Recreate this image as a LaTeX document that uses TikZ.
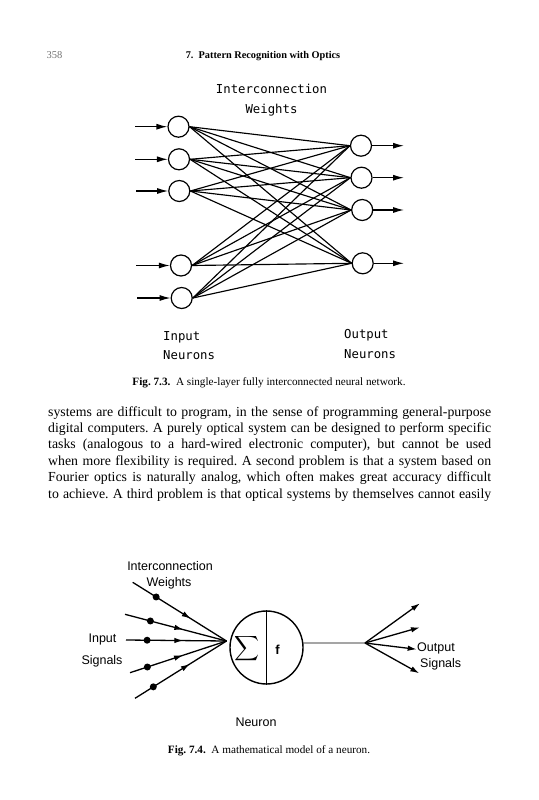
\documentclass[tikz,border=0pt]{standalone}
\usepackage{amsmath}
\usepackage{fontspec}
\setmainfont{Liberation Serif}
\newfontfamily\plotfont{DejaVu Sans Mono}
\newfontfamily\helvfont{Liberation Sans}
\usepackage{tikz}
\usetikzlibrary{positioning, calc, arrows.meta, decorations.markings}

\begin{document}
\frenchspacing
\begin{tikzpicture}[x=1pt, y=-1pt,
  neuron/.style={circle, draw, line width=1.2pt, minimum size=21pt, inner sep=0pt},
  feed/.style={line width=1.2pt, -{Latex[length=11pt,width=6pt]}},
  weight/.style={line width=1.15pt},
  plotlbl/.style={anchor=base, inner sep=0pt, font=\plotfont\fontsize{12.3}{14}\selectfont},
  helvlbl/.style={anchor=base, inner sep=0pt, font=\helvfont\fontsize{12.5}{14}\selectfont},
  bodyline/.style={anchor=base west, inner sep=0pt, font=\fontsize{13.8}{16.4}\selectfont},
  caption/.style={anchor=base, inner sep=0pt, font=\fontsize{11.2}{13}\selectfont},
  dot/.style={circle, fill, inner sep=0pt, minimum size=7pt},
  midarrow/.style={line width=1.3pt, postaction={decorate},
    decoration={markings, mark=at position #1 with {\arrow{Latex[length=9pt,width=5.5pt]}}}},
  fan/.style={line width=1.3pt, -{Latex[length=9pt,width=5.5pt]}}
]
  \fill[white] (0,0) rectangle (538,800);
  \useasboundingbox (0,0) rectangle (538,800);

  % running head
  \node[anchor=base west, inner sep=0pt, text=black!55, font=\fontsize{10.5}{12}\selectfont] (pgno) at (46.5,58.5) {358};
  \node[anchor=base, inner sep=0pt, font=\bfseries\fontsize{10.3}{12}\selectfont] (head) at (263,58.5) {7.\ \ Pattern Recognition with Optics};

  % Fig. 7.3: single-layer network
  \node[plotlbl] (iw1) at (271.5,93.5) {Interconnection};
  \node[plotlbl] (iw2) at (271.5,113) {Weights};

  \node[neuron] (i1) at (178.5,126.7) {};
  \node[neuron] (i2) at (179,159.3) {};
  \node[neuron] (i3) at (179.3,191) {};
  \node[neuron] (i4) at (181,265.5) {};
  \node[neuron] (i5) at (181.7,298) {};
  \node[neuron] (o1) at (361,145.7) {};
  \node[neuron] (o2) at (361.5,177.7) {};
  \node[neuron] (o3) at (362.2,210) {};
  \node[neuron] (o4) at (362.7,263.3) {};

  \coordinate (a1) at (135,126.7);
  \coordinate (a2) at (135,159.3);
  \coordinate (a3) at (136,191);
  \coordinate (a4) at (136,265.5);
  \coordinate (a5) at (137,298);
  \coordinate (b1) at (404,145.7);
  \coordinate (b2) at (404,177.7);
  \coordinate (b3) at (404,210);
  \coordinate (b4) at (404,263.3);

  \draw[feed] (a1) -- (i1);
  \draw[feed] (a2) -- (i2);
  \draw[feed] (a3) -- (i3);
  \draw[feed] (a4) -- (i4);
  \draw[feed] (a5) -- (i5);
  \draw[feed] (o1) -- (b1);
  \draw[feed] (o2) -- (b2);
  \draw[feed] (o3) -- (b3);
  \draw[feed] (o4) -- (b4);

  \draw[weight] (i1.east) -- (o1.west);
  \draw[weight] (i1.east) -- (o2.west);
  \draw[weight] (i1.east) -- (o3.west);
  \draw[weight] (i1.east) -- (o4.west);
  \draw[weight] (i2.east) -- (o1.west);
  \draw[weight] (i2.east) -- (o2.west);
  \draw[weight] (i2.east) -- (o3.west);
  \draw[weight] (i2.east) -- (o4.west);
  \draw[weight] (i3.east) -- (o1.west);
  \draw[weight] (i3.east) -- (o2.west);
  \draw[weight] (i3.east) -- (o3.west);
  \draw[weight] (i3.east) -- (o4.west);
  \draw[weight] (i4.east) -- (o1.west);
  \draw[weight] (i4.east) -- (o2.west);
  \draw[weight] (i4.east) -- (o3.west);
  \draw[weight] (i4.east) -- (o4.west);
  \draw[weight] (i5.east) -- (o1.west);
  \draw[weight] (i5.east) -- (o2.west);
  \draw[weight] (i5.east) -- (o3.west);
  \draw[weight] (i5.east) -- (o4.west);

  \node[plotlbl, anchor=base west] (in1) at (163,340) {Input};
  \node[plotlbl, anchor=base west] (in2) at (163,359.5) {Neurons};
  \node[plotlbl, anchor=base west] (on1) at (344,338.5) {Output};
  \node[plotlbl, anchor=base west] (on2) at (344,358.5) {Neurons};

  \node[caption] (cap1) at (269,385) {\textbf{Fig. 7.3.}\ \ A single-layer fully interconnected neural network.};

  % body text
  \node[bodyline] (l1) at (48,416) {\makebox[443pt][s]{systems are difficult to program, in the sense of programming general-purpose}};
  \node[bodyline] (l2) at (48,432.4) {\makebox[443pt][s]{digital computers. A purely optical system can be designed to perform specific}};
  \node[bodyline] (l3) at (48,448.8) {\makebox[443pt][s]{tasks (analogous to a hard-wired electronic computer), but cannot be used}};
  \node[bodyline] (l4) at (48,465.2) {\makebox[443pt][s]{when more flexibility is required. A second problem is that a system based on}};
  \node[bodyline] (l5) at (48,481.6) {\makebox[443pt][s]{Fourier optics is naturally analog, which often makes great accuracy difficult}};
  \node[bodyline] (l6) at (48,498) {\makebox[443pt][s]{to achieve. A third problem is that optical systems by themselves cannot easily}};

  % Fig. 7.4: model of a neuron
  \node[helvlbl] (mw1) at (170,570.5) {Interconnection};
  \node[helvlbl] (mw2) at (169,586) {Weights};

  \node[circle, draw, line width=1.4pt, minimum size=73pt, inner sep=0pt] (nrn) at (266.5,647.5) {};
  \draw[line width=1pt] (nrn.north) -- (nrn.south);
  \node[inner sep=0pt, font=\fontsize{19}{20}\selectfont] (sig) at (247,648.3) {$\displaystyle\sum$};
  \node[inner sep=0pt, font=\helvfont\bfseries\fontsize{13}{14}\selectfont] (fn) at (277.5,650) {f};

  \coordinate (c0) at (226.5,641);
  \coordinate (s1) at (132.7,582.3);
  \coordinate (s2) at (125,614.3);
  \coordinate (s3) at (126,640);
  \coordinate (s4) at (130,672.7);
  \coordinate (s5) at (135,698.3);
  \node[dot] (w1) at ($(s1)!0.25!(c0)$) {};
  \node[dot] (w2) at ($(s2)!0.25!(c0)$) {};
  \node[dot] (w3) at ($(s3)!0.21!(c0)$) {};
  \node[dot] (w4) at ($(s4)!0.18!(c0)$) {};
  \node[dot] (w5) at ($(s5)!0.2!(c0)$) {};
  \draw[midarrow=0.62] (s1) -- (c0);
  \draw[midarrow=0.575] (s2) -- (c0);
  \draw[midarrow=0.57] (s3) -- (c0);
  \draw[midarrow=0.55] (s4) -- (c0);
  \draw[midarrow=0.6] (s5) -- (c0);

  \node[helvlbl] (sg1) at (102.5,642.5) {Input};
  \node[helvlbl] (sg2) at (102,664.5) {Signals};

  \coordinate (fork) at (365,643);
  \coordinate (e1) at (420,603.3);
  \coordinate (e2) at (420,627.3);
  \coordinate (e3) at (416.7,649.3);
  \coordinate (e4) at (419.3,673.3);
  \draw[line width=0.9pt] (nrn.7.5) -- (fork);
  \draw[fan] (fork) -- (e1);
  \draw[fan] (fork) -- (e2);
  \draw[fan] (fork) -- (e3);
  \draw[fan] (fork) -- (e4);

  \node[helvlbl, anchor=base west] (os1) at (417,651) {Output};
  \node[helvlbl, anchor=base west] (os2) at (420,667) {Signals};

  \node[helvlbl] (nlbl) at (256,726) {Neuron};
  \node[caption] (cap2) at (269,753.5) {\textbf{Fig. 7.4.}\ \ A mathematical model of a neuron.};
\end{tikzpicture}
\end{document}
